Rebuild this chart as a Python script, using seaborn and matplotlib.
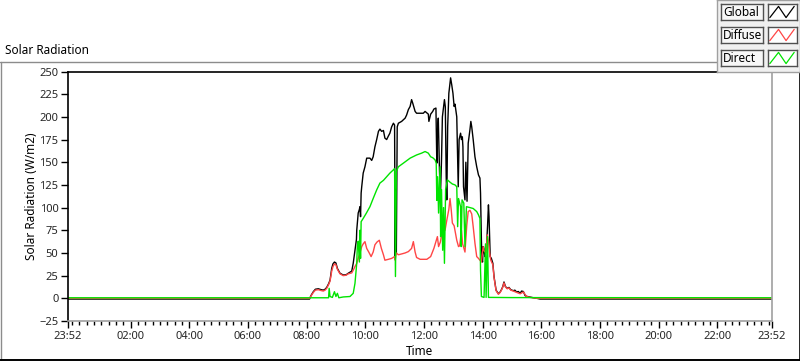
import numpy as np
import pandas as pd
import matplotlib
matplotlib.use("Agg")
import matplotlib.pyplot as plt
from matplotlib.ticker import FixedLocator, FixedFormatter, MultipleLocator
from matplotlib.lines import Line2D
import seaborn as sns

# ---------------- data (hours of day; start = 23:52 of previous day) ----------------
series_names = ["Global", "Diffuse", "Direct"]

global_time = [-0.133, 8.10, 8.15, 8.23, 8.30, 8.40, 8.50, 8.57, 8.63, 8.686, 8.75, 8.80, 8.857, 8.90, 8.95,
               9.00, 9.05, 9.14, 9.25, 9.35, 9.42, 9.54, 9.59, 9.65, 9.70, 9.71, 9.76, 9.80, 9.82, 9.84,
               9.86, 9.88, 9.93, 9.99, 10.05, 10.16, 10.22, 10.27, 10.33, 10.39, 10.45, 10.50, 10.56,
               10.62, 10.67, 10.73, 10.79, 10.84, 10.90, 10.96, 11.00, 11.02, 11.04, 11.06, 11.09, 11.13,
               11.24, 11.36, 11.41, 11.47, 11.53, 11.58, 11.62, 11.70, 11.75, 11.87, 11.98, 12.04, 12.15,
               12.17, 12.23, 12.30, 12.34, 12.41, 12.44, 12.46, 12.49, 12.53, 12.56, 12.60, 12.63, 12.70,
               12.73, 12.76, 12.78, 12.81, 12.85, 12.91, 12.95, 12.99, 13.03, 13.06, 13.12, 13.15, 13.17,
               13.20, 13.25, 13.28, 13.31, 13.33, 13.35, 13.40, 13.43, 13.47, 13.51, 13.57, 13.60, 13.63,
               13.68, 13.74, 13.80, 13.86, 13.91, 13.93, 13.96, 13.98, 14.00, 14.02, 14.05, 14.08, 14.10,
               14.13, 14.17, 14.20, 14.22, 14.26, 14.30, 14.35, 14.39, 14.46, 14.54, 14.60, 14.65, 14.69,
               14.73, 14.78, 14.84, 14.90, 14.96, 15.05, 15.10, 15.16, 15.22, 15.28, 15.33, 15.39, 15.45,
               15.50, 15.62, 15.72, 15.85, 15.96, 23.867]
global_wm2 = [-0.8, -0.8, 3, 7.3, 10, 10.5, 9.5, 9, 10, 12, 16, 20, 33, 38, 40,
              39, 33, 27.6, 25.7, 26, 27.6, 30, 38.6, 53, 65, 75, 94, 98, 101, 90,
              116, 123, 138, 145, 154.5, 154.5, 152, 156, 167, 175, 184, 186.5, 184,
              185, 176.6, 175, 179, 182, 189, 193, 191, 45, 120, 50, 189, 193,
              195, 198.6, 202, 208, 211.5, 219, 215, 206, 204, 204, 204, 206, 203,
              195, 203, 206, 208.6, 209.7, 149, 182, 198.6, 141.6, 108.5, 152.6, 200, 219,
              211, 134, 108.5, 189, 226, 243, 235, 226, 211.5, 214, 200, 156, 123,
              175, 182, 175, 178, 167, 123, 108.5, 150, 107, 171, 186, 195, 189,
              175, 156, 145, 136, 132.5, 116, 64, 42, 40, 57, 53, 46, 57,
              55, 80, 103, 90, 46, 44, 38.6, 24, 9, 5, 7, 10, 13,
              18, 13, 11, 12, 9.5, 8.4, 9, 7, 7.5, 5.5, 8, 7.5, 3,
              2.2, 1.4, 0.7, 0, -0.8, -0.8]

diffuse_time = [-0.133, 8.10, 8.15, 8.23, 8.30, 8.40, 8.50, 8.57, 8.63, 8.686, 8.75, 8.80, 8.857, 8.90, 8.95,
                9.00, 9.05, 9.14, 9.25, 9.35, 9.42, 9.54, 9.59, 9.65, 9.71, 9.76, 9.82, 9.88, 9.93, 9.99,
                10.05, 10.12, 10.20, 10.27, 10.33, 10.40, 10.48, 10.55, 10.62, 10.67, 10.79, 10.90, 11.00,
                11.02, 11.06, 11.13, 11.25, 11.36, 11.47, 11.58, 11.64, 11.70, 11.75, 11.87, 12.10, 12.23,
                12.34, 12.46, 12.50, 12.56, 12.66, 12.72, 12.78, 12.85, 12.89, 12.93, 12.97, 13.03, 13.12,
                13.18, 13.22, 13.28, 13.32, 13.40, 13.46, 13.51, 13.57, 13.63, 13.68, 13.74, 13.80, 13.86,
                13.96, 14.02, 14.06, 14.12, 14.16, 14.20, 14.24, 14.28, 14.35, 14.39, 14.46, 14.54, 14.60,
                14.65, 14.69, 14.73, 14.78, 14.84, 14.90, 14.96, 15.05, 15.16, 15.28, 15.39, 15.50, 15.62,
                15.85, 23.867]
diffuse_wm2 = [0, 0, 2.5, 6.5, 9, 9.5, 8.5, 8, 9, 11, 15, 19, 30, 35, 38,
               37, 32, 27, 25, 25.5, 27, 28, 31, 35, 38.6, 44, 50, 57, 60, 62.5,
               55, 51, 46, 51, 59, 62, 64, 55, 48, 42, 43, 44, 46,
               42, 50, 48, 49, 50, 51.5, 55, 62.5, 51, 45, 43, 43, 46,
               55, 68, 57, 62, 79, 75, 86, 98, 110, 98, 83, 80, 64,
               57, 58, 75, 60, 51, 80, 95.6, 97, 93, 79, 60.7, 46, 44,
               40, 57, 52, 50, 70, 63, 50, 42, 37, 23, 8.5, 4.5, 6.5,
               9.5, 12.5, 17, 12.5, 10.5, 11.5, 9, 8, 6.5, 5, 7, 2, 1,
               0, 0]

direct_time = [-0.133, 8.75, 8.77, 8.80, 8.88, 8.95, 9.00, 9.05, 9.10, 9.25, 9.48, 9.59, 9.65, 9.71, 9.73,
               9.76, 9.80, 9.82, 9.84, 9.86, 9.93, 10.04, 10.16, 10.27, 10.39, 10.50, 10.62, 10.73, 10.84,
               10.96, 11.00, 11.03, 11.06, 11.13, 11.30, 11.53, 11.75, 11.92, 12.04, 12.15, 12.23, 12.30,
               12.38, 12.42, 12.44, 12.47, 12.50, 12.55, 12.57, 12.60, 12.64, 12.67, 12.70, 12.74, 12.80,
               12.89, 12.97, 13.06, 13.12, 13.15, 13.18, 13.25, 13.27, 13.30, 13.36, 13.40, 13.45, 13.57,
               13.68, 13.80, 13.86, 13.91, 13.93, 13.96, 14.05, 14.10, 14.12, 14.17, 14.20, 14.30, 15.00,
               23.867]
direct_wm2 = [0.6, 0.6, 11, 2, 1, 7.3, 2, 5.5, 0.6, 1.5, 2, 5.5, 16.5, 38.6, 57,
              63, 40, 75, 44, 84.5, 88, 94, 101, 110, 119.5, 127, 130, 134, 138,
              141.6, 143, 24, 140, 145, 149, 154.5, 158, 160, 161.8, 160, 156, 155,
              152.6, 149, 108, 134, 94, 145, 68, 120, 53, 100, 38.6, 120, 130.6,
              128, 126, 125, 123, 79, 110, 101, 57, 108.5, 105, 57, 101, 100,
              99, 95.6, 92, 88, 31, 2, 1, 60, 1, 68, 1, 1, 0.8,
              0.6]

series_colors = {"Global": "#000000", "Diffuse": "#ff4646", "Direct": "#00e400"}

x_tick_values = [-0.1333, 2, 4, 6, 8, 10, 12, 14, 16, 18, 20, 22, 23.8667]
x_tick_labels = ["23:52", "02:00", "04:00", "06:00", "08:00", "10:00", "12:00",
                 "14:00", "16:00", "18:00", "20:00", "22:00", "23:52"]
y_tick_values = [-25, 0, 25, 50, 75, 100, 125, 150, 175, 200, 225, 250]

# ---------------- build long frame ----------------
frames = []
for name, t, v in [("Global", global_time, global_wm2),
                   ("Diffuse", diffuse_time, diffuse_wm2),
                   ("Direct", direct_time, direct_wm2)]:
    frames.append(pd.DataFrame({"time": t, "value": v, "series": name}))
df = pd.concat(frames, ignore_index=True)

# ---------------- style ----------------
sns.set_style("white")
FONT = ["Noto Sans", "DejaVu Sans"]
plt.rcParams["font.family"] = FONT

W, H = 800, 361
fig = plt.figure(figsize=(W / 100, H / 100), dpi=100)
fig.patch.set_facecolor("white")

ax = fig.add_axes([68 / W, (H - 321) / H, (772 - 68) / W, (321 - 71.5) / H])
sns.lineplot(data=df, x="time", y="value", hue="series", hue_order=series_names,
             palette=series_colors, estimator=None, sort=False, legend=False,
             linewidth=1.0, ax=ax)

ax.set_xlim(x_tick_values[0], x_tick_values[-1])
ax.set_ylim(-25, 250)
ax.xaxis.set_major_locator(FixedLocator(x_tick_values))
ax.xaxis.set_major_formatter(FixedFormatter(x_tick_labels))
ax.xaxis.set_minor_locator(MultipleLocator(0.25))
ax.yaxis.set_major_locator(FixedLocator(y_tick_values))

ax.tick_params(axis="x", which="major", direction="out", length=5, width=1, color="black",
               labelsize=8, pad=2, bottom=True)
ax.tick_params(axis="x", which="minor", direction="out", length=3, width=1, color="black", bottom=True)
ax.tick_params(axis="y", which="major", direction="out", length=5, width=1, color="black",
               labelsize=8, pad=2, left=True)

for side in ["left", "top"]:
    ax.spines[side].set_color("black")
    ax.spines[side].set_linewidth(1.2)
for side in ["bottom", "right"]:
    ax.spines[side].set_color("#a0a0a0")
    ax.spines[side].set_linewidth(1.2)

ax.set_xlabel("Time", fontsize=8.5, color="black")
ax.set_ylabel("Solar Radiation (W/m2)", fontsize=8.5, color="black")
ax.xaxis.set_label_coords(0.5, -0.095)
ax.yaxis.set_label_coords(-0.043, 0.5)

# chart title
fig.text(5 / W, 1 - 50 / H, "Solar Radiation", fontsize=8.5, ha="left", va="center", color="black")

# outer panel frame
def fig_line(x0, y0, x1, y1, color, lw=1.0, z=5):
    fig.add_artist(Line2D([x0 / W, x1 / W], [1 - y0 / H, 1 - y1 / H],
                          transform=fig.transFigure, color=color, lw=lw, zorder=z))

fig_line(0, 62, 717, 62, "#8c8c8c")
fig_line(0.5, 62, 0.5, 361, "#8c8c8c")
fig_line(0, 360, 800, 360, "#000000", lw=1.4)
fig_line(799.5, 72, 799.5, 361, "#000000", lw=1.2)

# legend panel
leg = fig.add_axes([717 / W, 1 - 72 / H, 83 / W, 72 / H], zorder=10)
leg.set_facecolor("#f0f0f0")
leg.set_xticks([]); leg.set_yticks([])
for s in leg.spines.values():
    s.set_color("#a0a0a0")
    s.set_linewidth(1.0)

ICON_X = [0.08, 0.38, 0.64, 0.92]
ICON_Y = [0.15, 0.85, 0.15, 0.85]
row_tops = [4, 27, 50]
for name, top in zip(series_names, row_tops):
    tax = fig.add_axes([721 / W, 1 - (top + 16) / H, 42 / W, 16 / H], zorder=11)
    tax.set_facecolor("#f7f7f7")
    tax.set_xticks([]); tax.set_yticks([])
    for s in tax.spines.values():
        s.set_color("#505050"); s.set_linewidth(1.0)
    tax.text(0.05, 0.45, name, transform=tax.transAxes, fontsize=8.5,
             ha="left", va="center", color="black")
    iax = fig.add_axes([767.5 / W, 1 - (top + 16) / H, 29 / W, 16 / H], zorder=11)
    iax.set_facecolor("white")
    iax.set_xticks([]); iax.set_yticks([])
    for s in iax.spines.values():
        s.set_color("#505050"); s.set_linewidth(1.0)
    iax.plot(ICON_X, ICON_Y, color=series_colors[name], lw=0.9)
    iax.set_xlim(0, 1); iax.set_ylim(0, 1)

fig.savefig("out.png", dpi=100, facecolor="white")
